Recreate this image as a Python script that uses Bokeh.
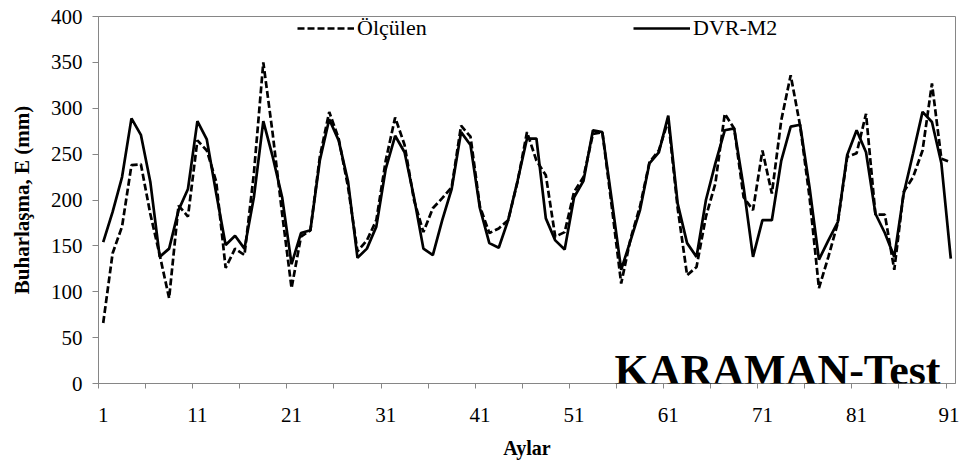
from bokeh.plotting import figure
from bokeh.models import FixedTicker, Legend, LegendItem, Label, Range1d
from bokeh.embed import file_html
from bokeh.resources import INLINE

months = list(range(1, 92))
olculen = [66, 142, 171, 238, 239, 185, 140, 93, 194, 182,
           265, 254, 220, 126, 147, 140, 229, 350, 272, 185,
           104, 160, 167, 247, 296, 267, 214, 144, 156, 178,
           243, 290, 260, 200, 165, 191, 202, 214, 281, 269,
           193, 164, 169, 178, 220, 274, 243, 227, 160, 165,
           209, 225, 272, 274, 193, 109, 158, 193, 241, 254,
           287, 191, 118, 127, 182, 218, 294, 278, 203, 189,
           254, 207, 287, 336, 281, 203, 104, 138, 175, 247,
           251, 294, 184, 184, 124, 209, 225, 254, 327, 245,
           241]
dvr_m2 = [154, 187, 225, 289, 271, 220, 138, 147, 189, 212,
          286, 266, 207, 151, 161, 147, 203, 286, 247, 203,
          130, 164, 167, 243, 288, 265, 220, 137, 147, 171,
          234, 270, 252, 203, 147, 140, 178, 212, 274, 260,
          191, 153, 148, 178, 221, 267, 267, 180, 156, 146,
          203, 221, 276, 274, 200, 124, 156, 189, 240, 252,
          292, 196, 153, 138, 200, 240, 276, 278, 214, 138,
          178, 178, 243, 280, 282, 214, 135, 156, 176, 249,
          276, 252, 185, 164, 138, 207, 251, 296, 285, 240,
          136]
x_labels = [1, 11, 21, 31, 41, 51, 61, 71, 81, 91]
y_ticks = [0, 50, 100, 150, 200, 250, 300, 350, 400]

FONT = "Liberation Serif"
GREY = "#868686"

p = figure(width=959, height=461, output_backend="svg", toolbar_location=None,
           min_border_left=98, min_border_right=4, min_border_top=16, min_border_bottom=77,
           x_range=Range1d(0.5, 91.5), y_range=Range1d(0, 400))

r1 = p.line(months, olculen, line_color="black", line_width=2.7, line_dash="7 3")
r2 = p.line(months, dvr_m2, line_color="black", line_width=2.7)

p.xgrid.visible = False
p.ygrid.visible = False
p.outline_line_color = GREY
p.outline_line_width = 1
p.background_fill_color = "white"
p.border_fill_color = "white"

xa = p.xaxis[0]
xa.ticker = FixedTicker(ticks=x_labels, minor_ticks=[0.5 + 5 * i for i in range(19)])
xa.major_tick_out = 0
xa.major_tick_in = 0
xa.minor_tick_out = 5
xa.minor_tick_in = 0
xa.minor_tick_line_color = GREY
xa.axis_line_color = GREY
xa.major_label_text_font = FONT
xa.major_label_text_font_size = "21px"
xa.major_label_text_color = "black"
xa.major_label_standoff = 19
xa.axis_label = "Aylar"
xa.axis_label_text_font = FONT
xa.axis_label_text_font_style = "bold"
xa.axis_label_text_font_size = "20px"
xa.axis_label_text_color = "black"
xa.axis_label_standoff = 12

ya = p.yaxis[0]
ya.ticker = FixedTicker(ticks=y_ticks, minor_ticks=[])
ya.major_tick_out = 6
ya.major_tick_in = 0
ya.major_tick_line_color = GREY
ya.axis_line_color = GREY
ya.major_label_text_font = FONT
ya.major_label_text_font_size = "21px"
ya.major_label_text_color = "black"
ya.major_label_standoff = 10
ya.axis_label = "Buharlaşma, E (mm)"
ya.axis_label_text_font = FONT
ya.axis_label_text_font_style = "bold"
ya.axis_label_text_font_size = "21px"
ya.axis_label_text_color = "black"
ya.axis_label_standoff = 14

legend = Legend(items=[LegendItem(label="Ölçülen", renderers=[r1]),
                       LegendItem(label="DVR-M2", renderers=[r2])],
                orientation="horizontal", location=(199, 340),
                glyph_width=57, glyph_height=30, label_standoff=3,
                label_width=100, label_height=30, spacing=176, padding=0, margin=0,
                border_line_alpha=0, background_fill_alpha=0,
                label_text_font=FONT, label_text_font_size="22px",
                label_text_color="black")
p.add_layout(legend)

p.add_layout(Label(x=89.9, y=14.4, text="KARAMAN-Test", text_align="right",
                   text_baseline="alphabetic", text_font=FONT, text_font_style="bold",
                   text_font_size="44px", text_color="black"))

open("out.html", "w").write(file_html(p, INLINE))
